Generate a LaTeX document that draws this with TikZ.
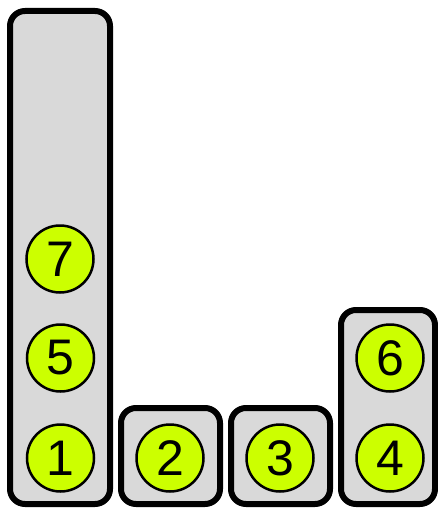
\documentclass[tikz,border=0pt]{standalone}
\usepackage{fontspec}
\setmainfont{Liberation Sans}
\definecolor{boxgray}{HTML}{D9D9D9}
\definecolor{ballgreen}{HTML}{CCFF00}
\begin{document}
\begin{tikzpicture}[x=1pt,y=-1pt,
  stack/.style={draw=black,line width=6pt,fill=boxgray,rounded corners=15pt},
  ball/.style={circle,draw=black,line width=2.5pt,fill=ballgreen,minimum size=67pt,inner sep=0pt,font=\fontsize{50}{50}\selectfont}]
\useasboundingbox (0,0) rectangle (438,508);
\draw[stack] (10,11) rectangle (110,504);
\draw[stack] (121,408) rectangle (220,504);
\draw[stack] (231,408) rectangle (330,504);
\draw[stack] (341,310) rectangle (435,504);
\node[ball] (n1) at (60.5,458) {1};
\node[ball] (n5) at (60.5,358) {5};
\node[ball] (n7) at (60,259) {7};
\node[ball] (n2) at (170,458) {2};
\node[ball] (n3) at (280,458) {3};
\node[ball] (n4) at (390,458) {4};
\node[ball] (n6) at (390,358) {6};
\end{tikzpicture}
\end{document}
